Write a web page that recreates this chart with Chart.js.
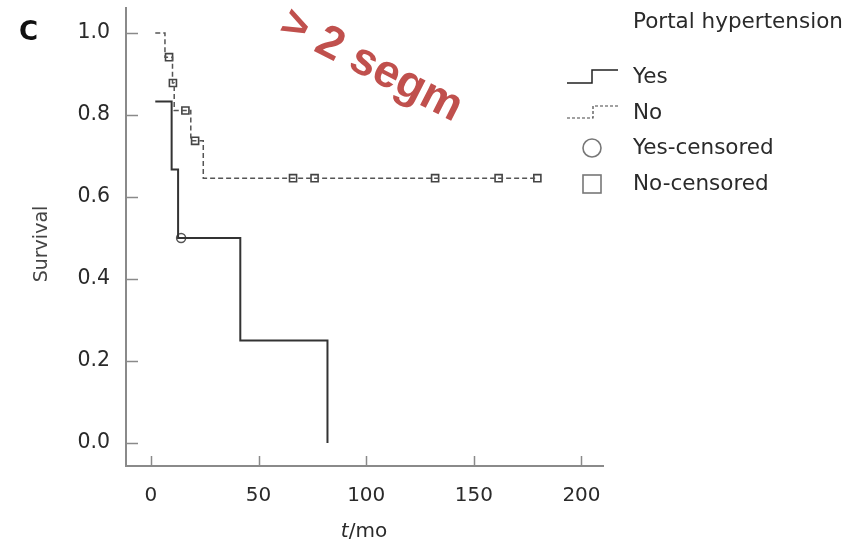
<!DOCTYPE html>
<html>
<head>
<meta charset="utf-8">
<script src="https://cdn.jsdelivr.net/npm/chart.js@4.4.1/dist/chart.umd.min.js"></script>
<style>
  html, body { margin: 0; padding: 0; background: #fff; }
  #wrap { width: 861px; height: 543px; }
</style>
</head>
<body>
<div id="wrap"><canvas id="km" width="861" height="543"></canvas></div>
<script>
// Kaplan-Meier: hipertensión portal (Yes / No), > 2 segmentos
const timeYes = [2, 9.6, 12.6, 41.5, 82];
const survYes = [0.833, 0.667, 0.5, 0.25, 0];
const timeNo = [2, 6.5, 10, 10.8, 18.5, 24.3, 179.5];
const survNo = [1.0, 0.941, 0.878, 0.811, 0.737, 0.646, 0.646];
const censYesT = [14];
const censYesS = [0.5];
const censNoT = [8.4, 10.2, 16, 20.5, 66, 76, 132, 161.5, 179.5];
const censNoS = [0.941, 0.878, 0.811, 0.737, 0.646, 0.646, 0.646, 0.646, 0.646];
const xTicks = [0, 50, 100, 150, 200];
const yTicks = [0, 0.2, 0.4, 0.6, 0.8, 1.0];
const legendTitle = "Portal hypertension";
const legendLabels = ["Yes", "No", "Yes-censored", "No-censored"];

const FONT = "'DejaVu Sans', Verdana, sans-serif";
const AXIS = "#8a8a8a";
const INK = "#2a2a2a";

const pts = (xs, ys) => xs.map((x, i) => ({x: x, y: ys[i]}));

// ticks hacia dentro, textos sueltos y leyenda dibujados a mano
const extras = {
    id: "extras",
    afterDraw(chart) {
        const {ctx, chartArea: a} = chart;
        const sx = chart.scales.x, sy = chart.scales.y;
        ctx.save();
        ctx.strokeStyle = AXIS;
        ctx.lineWidth = 1.5;
        ctx.beginPath();
        yTicks.forEach((v) => {
            const y = Math.round(sy.getPixelForValue(v)) + 0.5;
            ctx.moveTo(a.left, y); ctx.lineTo(a.left + 12, y);
        });
        xTicks.forEach((v) => {
            const x = Math.round(sx.getPixelForValue(v)) + 0.5;
            ctx.moveTo(x, a.bottom); ctx.lineTo(x, a.bottom - 10);
        });
        ctx.stroke();

        // panel label
        ctx.fillStyle = "#111";
        ctx.font = "bold 26px " + FONT;
        ctx.textBaseline = "middle";
        ctx.textAlign = "left";
        ctx.fillText("C", 19, 33);

        // y title
        ctx.save();
        ctx.translate(42, 244);
        ctx.rotate(-Math.PI / 2);
        ctx.textAlign = "center";
        ctx.fillStyle = "#444";
        ctx.font = "19px " + FONT;
        ctx.fillText("Survival", 0, 0);
        ctx.restore();

        // x title: t en cursiva
        ctx.font = "italic 20px " + FONT;
        const wT = ctx.measureText("t").width;
        ctx.font = "20px " + FONT;
        const wR = ctx.measureText("/mo").width;
        let x0 = 364 - (wT + wR) / 2;
        ctx.fillStyle = INK;
        ctx.textAlign = "left";
        ctx.font = "italic 20px " + FONT;
        ctx.fillText("t", x0, 532);
        ctx.font = "20px " + FONT;
        ctx.fillText("/mo", x0 + wT, 532);

        // nota roja
        ctx.save();
        ctx.translate(sx.getPixelForValue(102.3), sy.getPixelForValue(0.92));
        ctx.rotate(27 * Math.PI / 180);
        ctx.fillStyle = "#c0504d";
        ctx.font = "bold 46px 'Liberation Sans', Arial, sans-serif";
        ctx.textAlign = "center";
        ctx.textBaseline = "middle";
        ctx.fillText("> 2 segm", 0, 0);
        ctx.restore();

        // leyenda
        ctx.fillStyle = INK;
        ctx.font = "21.5px " + FONT;
        ctx.textAlign = "left";
        ctx.textBaseline = "middle";
        ctx.fillText(legendTitle, 633, 22);
        const rows = [77, 113, 148, 184];
        legendLabels.forEach((t, i) => ctx.fillText(t, 633, rows[i]));

        ctx.strokeStyle = "#222";
        ctx.lineWidth = 1.5;
        ctx.beginPath();
        ctx.moveTo(567, 83); ctx.lineTo(592, 83); ctx.lineTo(592, 70); ctx.lineTo(618, 70);
        ctx.stroke();
        ctx.setLineDash([3, 2]);
        ctx.strokeStyle = "#444";
        ctx.lineWidth = 1.2;
        ctx.beginPath();
        ctx.moveTo(567, 118); ctx.lineTo(593, 118); ctx.lineTo(593, 106); ctx.lineTo(618, 106);
        ctx.stroke();
        ctx.setLineDash([]);
        ctx.strokeStyle = "#777";
        ctx.lineWidth = 1.6;
        ctx.beginPath();
        ctx.arc(592, 148, 9, 0, Math.PI * 2);
        ctx.stroke();
        ctx.strokeRect(583, 175, 18, 18);
        ctx.restore();
    },
};

new Chart(document.getElementById("km"), {
    type: "scatter",
    data: {
        datasets: [
            {
                label: "Yes",
                data: pts(timeYes, survYes),
                showLine: true,
                stepped: "before",
                borderColor: "#333",
                borderWidth: 2,
                pointRadius: 0,
            },
            {
                label: "No",
                data: pts(timeNo, survNo),
                showLine: true,
                stepped: "before",
                borderColor: "#555",
                borderWidth: 1.5,
                borderDash: [5, 3],
                pointRadius: 0,
            },
            {
                label: "Yes-censored",
                data: pts(censYesT, censYesS),
                pointStyle: "circle",
                pointRadius: 4.5,
                borderColor: "#555",
                borderWidth: 1.5,
                backgroundColor: "rgba(255,255,255,0)",
            },
            {
                label: "No-censored",
                data: pts(censNoT, censNoS),
                pointStyle: "rect",
                pointRadius: 5,
                borderColor: "#444",
                borderWidth: 1.6,
                backgroundColor: "rgba(255,255,255,0)",
            },
        ],
    },
    options: {
        responsive: false,
        animation: false,
        devicePixelRatio: 1,
        layout: { padding: { top: 8, right: 258, left: 0, bottom: 0 } },
        plugins: { legend: { display: false }, tooltip: { enabled: false } },
        scales: {
            x: {
                type: "linear",
                min: -11.6,
                max: 210,
                afterFit: (s) => { s.height = 77; s.paddingLeft = 0; s.paddingRight = 0; },
                afterBuildTicks: (s) => { s.ticks = xTicks.map((v) => ({value: v})); },
                grid: { display: false, drawTicks: false },
                border: { display: true, color: AXIS, width: 2 },
                ticks: { color: INK, font: { family: FONT, size: 20 }, padding: 18, maxRotation: 0 },
            },
            y: {
                type: "linear",
                min: -0.056,
                max: 1.061,
                afterFit: (s) => { s.width = 126; s.paddingTop = 0; s.paddingBottom = 0; },
                afterBuildTicks: (s) => { s.ticks = yTicks.map((v) => ({value: v})); },
                grid: { display: false, drawTicks: false },
                border: { display: true, color: AXIS, width: 2 },
                ticks: {
                    color: INK,
                    font: { family: FONT, size: 20.5 },
                    padding: 16,
                    callback: (v) => v.toFixed(1),
                },
            },
        },
    },
    plugins: [extras],
});
</script>
</body>
</html>
